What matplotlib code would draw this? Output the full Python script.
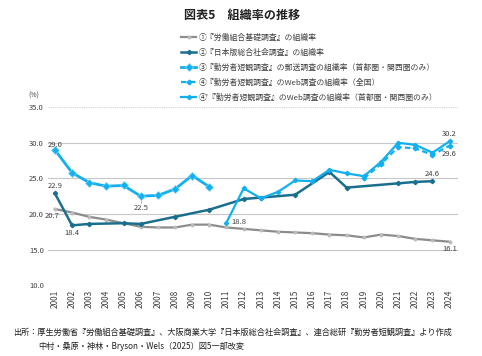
import matplotlib
matplotlib.use("Agg")
import matplotlib.pyplot as plt
import numpy as np

plt.rcParams['font.family'] = ['Noto Sans CJK JP', 'DejaVu Sans']

years = list(range(2001, 2025))
s1_years = years
s1 = [20.7, 20.2, 19.6, 19.2, 18.7, 18.2, 18.1, 18.1, 18.5, 18.5, 18.1, 17.9,
      17.7, 17.5, 17.4, 17.3, 17.1, 17.0, 16.7, 17.1, 16.9, 16.5, 16.3, 16.1]
s2_years = [2001, 2002, 2003, 2005, 2006, 2008, 2010, 2012, 2013, 2015, 2017, 2018, 2021, 2022, 2023]
s2 = [22.9, 18.4, 18.6, 18.7, 18.6, 19.6, 20.6, 22.1, 22.3, 22.7, 25.9, 23.7, 24.3, 24.5, 24.6]
s3_years = list(range(2001, 2011))
s3 = [29.0, 25.8, 24.4, 23.9, 24.0, 22.5, 22.6, 23.5, 25.4, 23.8]
s4_years = list(range(2019, 2025))
s4 = [25.0, 27.0, 29.4, 29.2, 28.3, 29.6]
s5_years = list(range(2011, 2025))
s5 = [18.8, 23.6, 22.2, 23.1, 24.7, 24.6, 26.2, 25.7, 25.3, 27.3, 30.0, 29.7, 28.6, 30.2]

labels = ["①『労働組合基礎調査』の組織率",
          "②『日本版総合社会調査』の組織率",
          "③『勤労者短観調査』の郵送調査の組織率（首都圏・関西圏のみ）",
          "④『勤労者短観調査』のWeb調査の組織率（全国）",
          "④’『勤労者短観調査』のWeb調査の組織率（首都圏・関西圏のみ）"]

c_gray = '#8c8c8c'
c_teal = '#1b6f8e'
c_cyan = '#12b0ee'

fig = plt.figure(figsize=(4.82, 3.56), dpi=100)
ax = fig.add_axes([0.0996, 0.199, 0.851, 0.500])

l1, = ax.plot(s1_years, s1, color=c_gray, lw=1.6, marker='o', ms=1.8,
              mfc='#bbbbbb', mec='#bbbbbb', zorder=3)
l2, = ax.plot(s2_years, s2, color=c_teal, lw=1.8, marker='D', ms=2.2, zorder=4)
l3, = ax.plot(s3_years, s3, color=c_cyan, lw=2.0, marker='D', ms=4.2,
              mfc=c_cyan, mec='#7fd6f7', mew=0.5, zorder=5)
l4, = ax.plot(s4_years, s4, color=c_cyan, lw=1.6, ls=(0, (2.5, 1.5)), marker='D', ms=2.4, zorder=5)
l5, = ax.plot(s5_years, s5, color=c_cyan, lw=1.6, marker='D', ms=2.2, zorder=6)

ax.set_xlim(2000.6, 2024.5)
ax.set_ylim(10, 35)
ax.set_yticks([10, 15, 20, 25, 30, 35])
ax.set_yticklabels([f"{v:.1f}" for v in [10, 15, 20, 25, 30, 35]], fontsize=5.5, color='#404040')
ax.set_xticks(years)
ax.set_xticklabels([str(y) for y in years], rotation=90, fontsize=6, color='#404040')
ax.tick_params(length=0, pad=3)
for sp in ax.spines.values():
    sp.set_visible(False)
for v in [10, 15, 20, 25, 30]:
    ax.axhline(v, color='#c8c8c8', lw=0.8, zorder=1)
ax.axhline(35, color='#d0d0d0', lw=0.8, ls=(0, (1, 1)), zorder=1)

fig.text(0.058, 0.727, "(%)", fontsize=5, color='#404040')

# data labels
ann = dict(fontsize=5.5, color='#404040')
ax.text(2001, 29.15, "29.0", ha='center', va='bottom', **ann)
ax.text(2001, 23.3, "22.9", ha='center', va='bottom', **ann)
ax.text(2000.85, 20.3, "20.7", ha='center', va='top', **ann)
ax.text(2002, 17.9, "18.4", ha='center', va='top', **ann)
ax.plot([2006, 2006], [22.3, 21.5], color='#999999', lw=0.5)
ax.text(2006, 21.4, "22.5", ha='center', va='top', **ann)
ax.text(2011.3, 18.8, "18.8", ha='left', va='center', **ann)
ax.text(2023, 25.0, "24.6", ha='center', va='bottom', **ann)
ax.text(2024, 30.6, "30.2", ha='center', va='bottom', **ann)
ax.text(2024, 29.0, "29.6", ha='center', va='top', **ann)
ax.text(2024, 15.7, "16.1", ha='center', va='top', **ann)

# title
fig.text(0.503, 0.956, "図表5　組織率の推移", fontsize=8.7, fontweight='bold', ha='center', va='center', color='#222222')

# legend
leg = fig.legend([l1, l2, l3, l4, l5], labels, loc='upper left',
                 bbox_to_anchor=(0.375, 0.905), frameon=False, fontsize=5.65,
                 handlelength=2.0, handletextpad=0.3, labelspacing=0.85,
                 borderaxespad=0, borderpad=0)
for t in leg.get_texts():
    t.set_color('#404040')

# source
fig.text(0.027, 0.066, "出所：厚生労働省『労働組合基礎調査』、大阪商業大学『日本版総合社会調査』、連合総研『勤労者短観調査』より作成",
         fontsize=5.9, ha='left', va='center', color='#222222')
fig.text(0.079, 0.028, "中村・桑原・神林・Bryson・Wels（2025）図5一部改変",
         fontsize=5.9, ha='left', va='center', color='#222222')

fig.savefig("out.png", dpi=100)
